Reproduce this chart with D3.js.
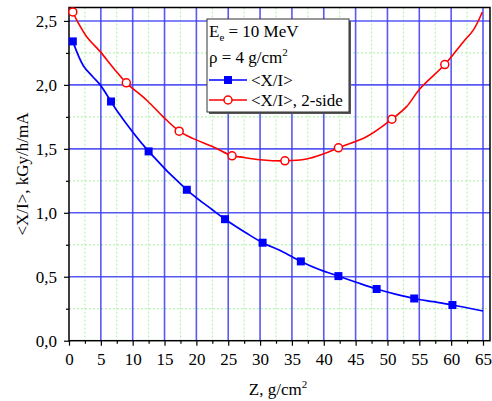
<!DOCTYPE html>
<html><head><meta charset="utf-8">
<script src="https://cdn.jsdelivr.net/npm/d3@7"></script>
<style>body{margin:0;background:#fff}svg{display:block}svg text{font-family:"Liberation Serif","Times New Roman",serif !important;fill:#000}</style>
</head><body><svg id="c" width="492" height="401" font-family="Liberation Serif"></svg>
<script>
// Marker data
const blueZ = [0.6, 6.6, 12.5, 18.5, 24.5, 30.4, 36.4, 42.3, 48.3, 54.2, 60.2];
const blueV = [2.34, 1.87, 1.48, 1.18, 0.95, 0.766, 0.62, 0.505, 0.404, 0.33, 0.279];
const redZ = [0.6, 9.0, 17.3, 25.6, 33.9, 42.3, 50.7, 59.0];
const redV = [2.57, 2.016, 1.638, 1.445, 1.406, 1.508, 1.732, 2.159];
// Smooth curve data
const blueCurveZ = [0.6, 2.25, 3.8, 4.9, 6.6, 7.5, 12.5, 18.5, 22.6, 24.5, 27.9, 30.4, 33.4, 36.4, 39.4, 42.3, 45.2, 48.3, 51.4, 54.2, 57.2, 60.2, 65];
const blueCurveV = [2.34, 2.15, 2.06, 2.0, 1.87, 1.80, 1.48, 1.18, 1.02, 0.95, 0.84, 0.766, 0.70, 0.62, 0.555, 0.505, 0.455, 0.404, 0.362, 0.33, 0.305, 0.279, 0.232];
const redCurveZ = [0.6, 1.5, 2.8, 4.9, 7.0, 9.0, 12.2, 14.8, 17.3, 19.5, 22.6, 25.6, 26.8, 30.0, 33.9, 37.3, 39.9, 42.3, 46.7, 50.7, 53.0, 55.1, 59.0, 61.9, 63.5, 64.9];
const redCurveV = [2.57, 2.48, 2.375, 2.26, 2.13, 2.016, 1.88, 1.75, 1.638, 1.58, 1.516, 1.445, 1.437, 1.415, 1.406, 1.42, 1.459, 1.508, 1.594, 1.732, 1.83, 1.97, 2.159, 2.336, 2.43, 2.57];
const xTicks = [0, 5, 10, 15, 20, 25, 30, 35, 40, 45, 50, 55, 60, 65];
const yTicks = [0, 0.5, 1.0, 1.5, 2.0, 2.5];
const xMinor = [2.5, 7.5, 12.5, 17.5, 22.5, 27.5, 32.5, 37.5, 42.5, 47.5, 52.5, 57.5, 62.5];
const yMinor = [0.25, 0.75, 1.25, 1.75, 2.25];

const FONT = "Liberation Serif";
const svg = d3.select("#c");
const L = 69, R = 490, T = 7.5, B = 340.7;
const x = d3.scaleLinear().domain([0, 66.1]).range([L, R]);
const y = d3.scaleLinear().domain([0, 2.605]).range([B, T]);
const fmt = v => d3.format(".1f")(v).replace(".", ",");

const g = svg.append("g");
// minor grid
g.selectAll(".mgx").data(xMinor).join("line")
  .attr("x1", d => x(d)).attr("x2", d => x(d)).attr("y1", T).attr("y2", B)
  .attr("stroke", "#a8f0a0").attr("stroke-width", 1).attr("stroke-dasharray", "2,2");
g.selectAll(".mgy").data(yMinor).join("line")
  .attr("y1", d => y(d)).attr("y2", d => y(d)).attr("x1", L).attr("x2", R)
  .attr("stroke", "#a8f0a0").attr("stroke-width", 1).attr("stroke-dasharray", "2,2");
// major grid
g.selectAll(".Mgx").data(xTicks.filter(d => d > 0)).join("line")
  .attr("x1", d => x(d)).attr("x2", d => x(d)).attr("y1", T).attr("y2", B)
  .attr("stroke", "#3b3bf5").attr("stroke-opacity", 0.85).attr("stroke-width", 1.6);
g.selectAll(".Mgy").data(yTicks.filter(d => d > 0)).join("line")
  .attr("y1", d => y(d)).attr("y2", d => y(d)).attr("x1", L).attr("x2", R)
  .attr("stroke", "#3b3bf5").attr("stroke-opacity", 0.85).attr("stroke-width", 1.6);

// axes
const xAxis = d3.axisBottom(x).tickValues(xTicks).tickSize(5).tickFormat(d3.format("d"));
const xa = svg.append("g").attr("transform", `translate(0,${B})`).call(xAxis);
const xAxisMinor = d3.axisBottom(x).tickValues(xMinor).tickSize(3).tickFormat("");
svg.append("g").attr("transform", `translate(0,${B})`).call(xAxisMinor).select(".domain").remove();
const yAxis = d3.axisLeft(y).tickValues(yTicks).tickSize(5).tickFormat(fmt);
const ya = svg.append("g").attr("transform", `translate(${L},0)`).call(yAxis);
const yAxisMinor = d3.axisLeft(y).tickValues(yMinor).tickSize(3).tickFormat("");
svg.append("g").attr("transform", `translate(${L},0)`).call(yAxisMinor).select(".domain").remove();
svg.selectAll(".domain").remove();
svg.selectAll("g").attr("font-family", FONT);
svg.selectAll(".tick line").attr("stroke", "#000").attr("stroke-width", 1.2);
xa.selectAll("text").attr("font-size", 17).style("font-family", FONT).attr("dy", null).attr("y", 24);
ya.selectAll("text").attr("font-size", 17).style("font-family", FONT).attr("x", -12).attr("dy", "0.35em");
// frame
svg.append("rect").attr("x", L).attr("y", T).attr("width", R - L).attr("height", B - T)
  .attr("fill", "none").attr("stroke", "#000").attr("stroke-width", 1.5);

// curves
const line = d3.line().x(d => x(d[0])).y(d => y(d[1])).curve(d3.curveCatmullRom.alpha(0.5));
svg.append("path").datum(blueCurveZ.map((z, i) => [z, blueCurveV[i]]))
  .attr("d", line).attr("fill", "none").attr("stroke", "#0000ff").attr("stroke-width", 1.7);
svg.append("path").datum(redCurveZ.map((z, i) => [z, redCurveV[i]]))
  .attr("d", line).attr("fill", "none").attr("stroke", "#ff0000").attr("stroke-width", 1.6);
// markers
svg.selectAll(".bm").data(blueZ.map((z, i) => [z, blueV[i]])).join("rect")
  .attr("x", d => x(d[0]) - 4).attr("y", d => y(d[1]) - 4).attr("width", 8).attr("height", 8)
  .attr("fill", "#0000ff");
svg.selectAll(".rm").data(redZ.map((z, i) => [z, redV[i]])).join("circle")
  .attr("cx", d => x(d[0])).attr("cy", d => y(d[1])).attr("r", 4)
  .attr("fill", "#fff").attr("stroke", "#ff0000").attr("stroke-width", 1.5);

// legend
const lg = svg.append("g");
lg.append("rect").attr("x", 209).attr("y", 21).attr("width", 142).attr("height", 93).attr("fill", "#555");
lg.append("rect").attr("x", 207).attr("y", 19).attr("width", 142).attr("height", 93)
  .attr("fill", "#fff").attr("stroke", "#333").attr("stroke-width", 1);
const t1 = lg.append("text").attr("x", 209).attr("y", 37).attr("font-size", 17).style("font-family", FONT);
t1.append("tspan").text("E");
t1.append("tspan").attr("font-size", 11).attr("dy", 4).text("e");
t1.append("tspan").attr("dy", -4).text(" = 10 MeV");
const t2 = lg.append("text").attr("x", 209).attr("y", 63).attr("font-size", 17).style("font-family", FONT);
t2.append("tspan").text("ρ = 4 g/cm");
t2.append("tspan").attr("font-size", 11).attr("dy", -7).text("2");
lg.append("line").attr("x1", 209).attr("x2", 247).attr("y1", 80).attr("y2", 80).attr("stroke", "#0000ff").attr("stroke-width", 1.7);
lg.append("rect").attr("x", 224).attr("y", 76).attr("width", 8).attr("height", 8).attr("fill", "#0000ff");
lg.append("text").attr("x", 251).attr("y", 86).attr("font-size", 17).style("font-family", FONT).text("<X/I>");
lg.append("line").attr("x1", 209).attr("x2", 247).attr("y1", 100).attr("y2", 100).attr("stroke", "#ff0000").attr("stroke-width", 1.6);
lg.append("circle").attr("cx", 228).attr("cy", 100).attr("r", 4).attr("fill", "#fff").attr("stroke", "#ff0000").attr("stroke-width", 1.5);
lg.append("text").attr("x", 251).attr("y", 106).attr("font-size", 17).style("font-family", FONT).text("<X/I>, 2-side");

// axis titles
const xt = svg.append("text").attr("x", 278).attr("y", 395).attr("text-anchor", "middle").attr("font-size", 17).style("font-family", FONT);
xt.append("tspan").text("Z, g/cm");
xt.append("tspan").attr("font-size", 11).attr("dy", -7).text("2");
svg.append("text").attr("transform", "translate(28,174) rotate(-90)").attr("text-anchor", "middle")
  .attr("font-size", 17).style("font-family", FONT).text("<X/I>, kGy/h/mA");
</script></body></html>
